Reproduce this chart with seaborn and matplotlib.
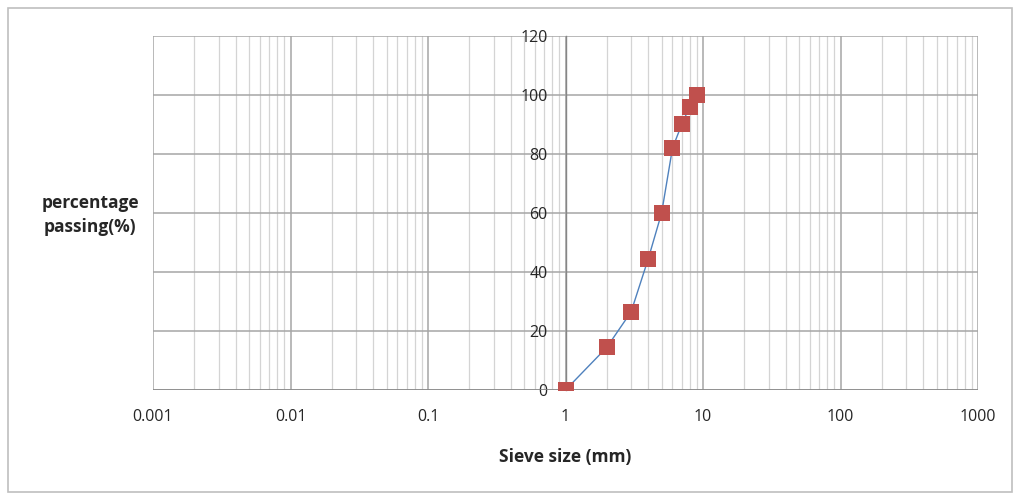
import matplotlib
matplotlib.use("Agg")
import matplotlib.pyplot as plt
import pandas as pd
import seaborn as sns
from matplotlib.patches import Rectangle
from matplotlib.ticker import LogLocator, FixedLocator

# Sieve analysis values.
sieve_size = [1, 2, 3, 4, 5, 6, 7, 8, 9]
percent_passing = [0, 14.5, 26.5, 44.5, 60, 82, 90, 96, 100]
x_ticks = [0.001, 0.01, 0.1, 1, 10, 100, 1000]
x_labels = ["0.001", "0.01", "0.1", "1", "10", "100", "1000"]
y_ticks = [0, 20, 40, 60, 80, 100, 120]

df = pd.DataFrame({"size": sieve_size, "passing": percent_passing})

sns.set_style("white")
plt.rcParams["font.family"] = ["Open Sans", "DejaVu Sans"]

fig = plt.figure(figsize=(10.15, 4.96), dpi=100)
ax = fig.add_axes([153 / 1015, 1 - 390 / 496, (978 - 153) / 1015, (390 - 36) / 496])

sns.lineplot(data=df, x="size", y="passing", sort=False, color="#4F81BD",
             linewidth=1, ax=ax, zorder=3)
sns.scatterplot(data=df, x="size", y="passing", marker="s", s=125,
                color="#C0504D", edgecolor="#C0504D", linewidth=0, ax=ax, zorder=4)

ax.set_xscale("log")
ax.set_xlim(0.001, 1000)
ax.set_ylim(0, 120)

ax.xaxis.set_major_locator(FixedLocator(x_ticks))
ax.xaxis.set_minor_locator(LogLocator(base=10, subs=range(2, 10)))
ax.set_xticks(x_ticks)
ax.set_xticklabels(x_labels)
ax.set_yticks(y_ticks)

ax.grid(which="major", axis="both", color="#a6a6a6", linewidth=1.1)
ax.grid(which="minor", axis="x", color="#d4d4d4", linewidth=0.9)
ax.set_axisbelow(True)

for s in ["top", "right", "bottom"]:
    ax.spines[s].set_visible(False)
ax.spines["left"].set_position(("data", 1))
ax.spines["left"].set_color("#868686")
ax.spines["left"].set_linewidth(1)
ax.axhline(0, color="#868686", linewidth=1.1, zorder=2)

ax.tick_params(axis="y", which="both", length=4, color="#868686",
               labelsize=11.5, pad=9, direction="out", labelcolor="#262626")
ax.tick_params(axis="x", which="major", length=5, color="#868686",
               labelsize=11.5, pad=14, direction="in", labelcolor="#262626")
ax.tick_params(axis="x", which="minor", length=0)

ax.set_xlabel("Sieve size (mm)", fontsize=12.5, fontweight="bold", labelpad=16,
              color="#262626")
ax.set_ylabel("")
fig.text(90 / 1015, 1 - 215 / 496, "percentage\npassing(%)", ha="center",
         va="center", fontsize=12.5, fontweight="bold", linespacing=1.4,
         color="#262626")

# outer chart border
fig.patches.append(Rectangle((8 / 1015, 4 / 496), 1004 / 1015, 484 / 496,
                             transform=fig.transFigure, fill=False,
                             edgecolor="#bfbfbf", linewidth=1.2))

fig.savefig("out.png", dpi=100)
